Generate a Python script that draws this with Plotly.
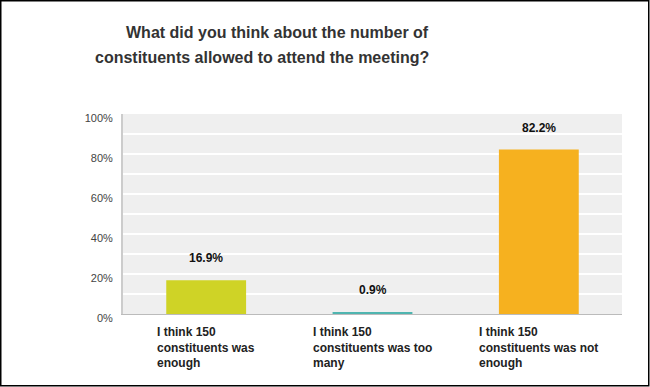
import plotly.graph_objects as go

# ---- data ----
categories = [
    "I think 150<br>constituents was<br>enough",
    "I think 150<br>constituents was too<br>many",
    "I think 150<br>constituents was not<br>enough",
]
values = [16.9, 0.9, 82.2]
value_labels = ["16.9%", "0.9%", "82.2%"]
bar_colors = ["#cfd326", "#4fb5b0", "#f6b11f"]
y_tickvals = [0, 20, 40, 60, 80, 100]
y_ticktext = ["0%", "20%", "40%", "60%", "80%", "100%"]
title_lines = ["What did you think about the number of",
               "constituents allowed to attend the meeting?"]

W, H = 650, 387
ML, MR, MT, MB = 123, 28, 114, 73
PW, PH = W - ML - MR, H - MT - MB


def px_x(px):
    return (px - ML) / PW


def px_y(py):
    return (H - MB - py) / PH


xs = list(range(len(categories)))

fig = go.Figure()
fig.add_trace(go.Bar(
    x=xs, y=values, marker=dict(color=bar_colors, line=dict(width=0)),
    width=0.48, hoverinfo="skip",
))

annotations = []
for i, (v, t) in enumerate(zip(values, value_labels)):
    annotations.append(dict(
        x=i, y=v, xref="x", yref="y", text=f"<b>{t}</b>", showarrow=False,
        yanchor="bottom", yshift=13,
        font=dict(family="Liberation Sans, Arial", size=12, color="#111111"),
    ))
for i, c in enumerate(categories):
    annotations.append(dict(
        x=i, y=px_y(323), xref="x", yref="paper", text=f"<b>{c}</b>",
        showarrow=False, xanchor="center", yanchor="top", align="left",
        font=dict(family="Liberation Sans, Arial", size=12, color="#222222"),
    ))
for k, line in enumerate(title_lines):
    annotations.append(dict(
        x=px_x(431), y=px_y(32 + 25 * k), xref="paper", yref="paper", text=f"<b>{line}</b>",
        showarrow=False, xanchor="right", yanchor="middle", align="right",
        font=dict(family="Liberation Sans, Arial", size=16, color="#333333"),
    ))

shapes = [
    dict(type="rect", xref="paper", yref="paper",
         x0=px_x(0.75), x1=px_x(648.75), y0=px_y(0.75), y1=px_y(385.75),
         line=dict(color="#000000", width=1.5), fillcolor="rgba(0,0,0,0)", layer="above"),
]

fig.update_layout(
    template="none",
    width=W, height=H,
    margin=dict(l=ML, r=MR, t=MT, b=MB, pad=0),
    paper_bgcolor="#ffffff", plot_bgcolor="#efefef",
    showlegend=False, bargap=0.52,
    annotations=annotations, shapes=shapes,
    xaxis=dict(range=[-0.5, 2.5], showticklabels=False, showgrid=False, zeroline=False,
               showline=True, linecolor="#bbbbbb", linewidth=1, ticks="", fixedrange=True),
    yaxis=dict(range=[0, 100], tickvals=y_tickvals, ticktext=y_ticktext,
               showgrid=True, gridcolor="#ffffff", gridwidth=2,
               minor=dict(dtick=10, showgrid=True, gridcolor="#ffffff", gridwidth=2, ticks=""),
               zeroline=False, showline=True, linecolor="#cccccc", linewidth=2,
               ticks="", ticklabelstandoff=6, ticklabelshift=4,
               tickfont=dict(family="Liberation Sans, Arial", size=11, color="#444444"),
               fixedrange=True),
)

fig.write_html(
    "out.html",
    config={"displayModeBar": False},
    post_script="document.body.style.margin='0';document.body.style.padding='0';document.body.style.overflow='hidden';",
)
